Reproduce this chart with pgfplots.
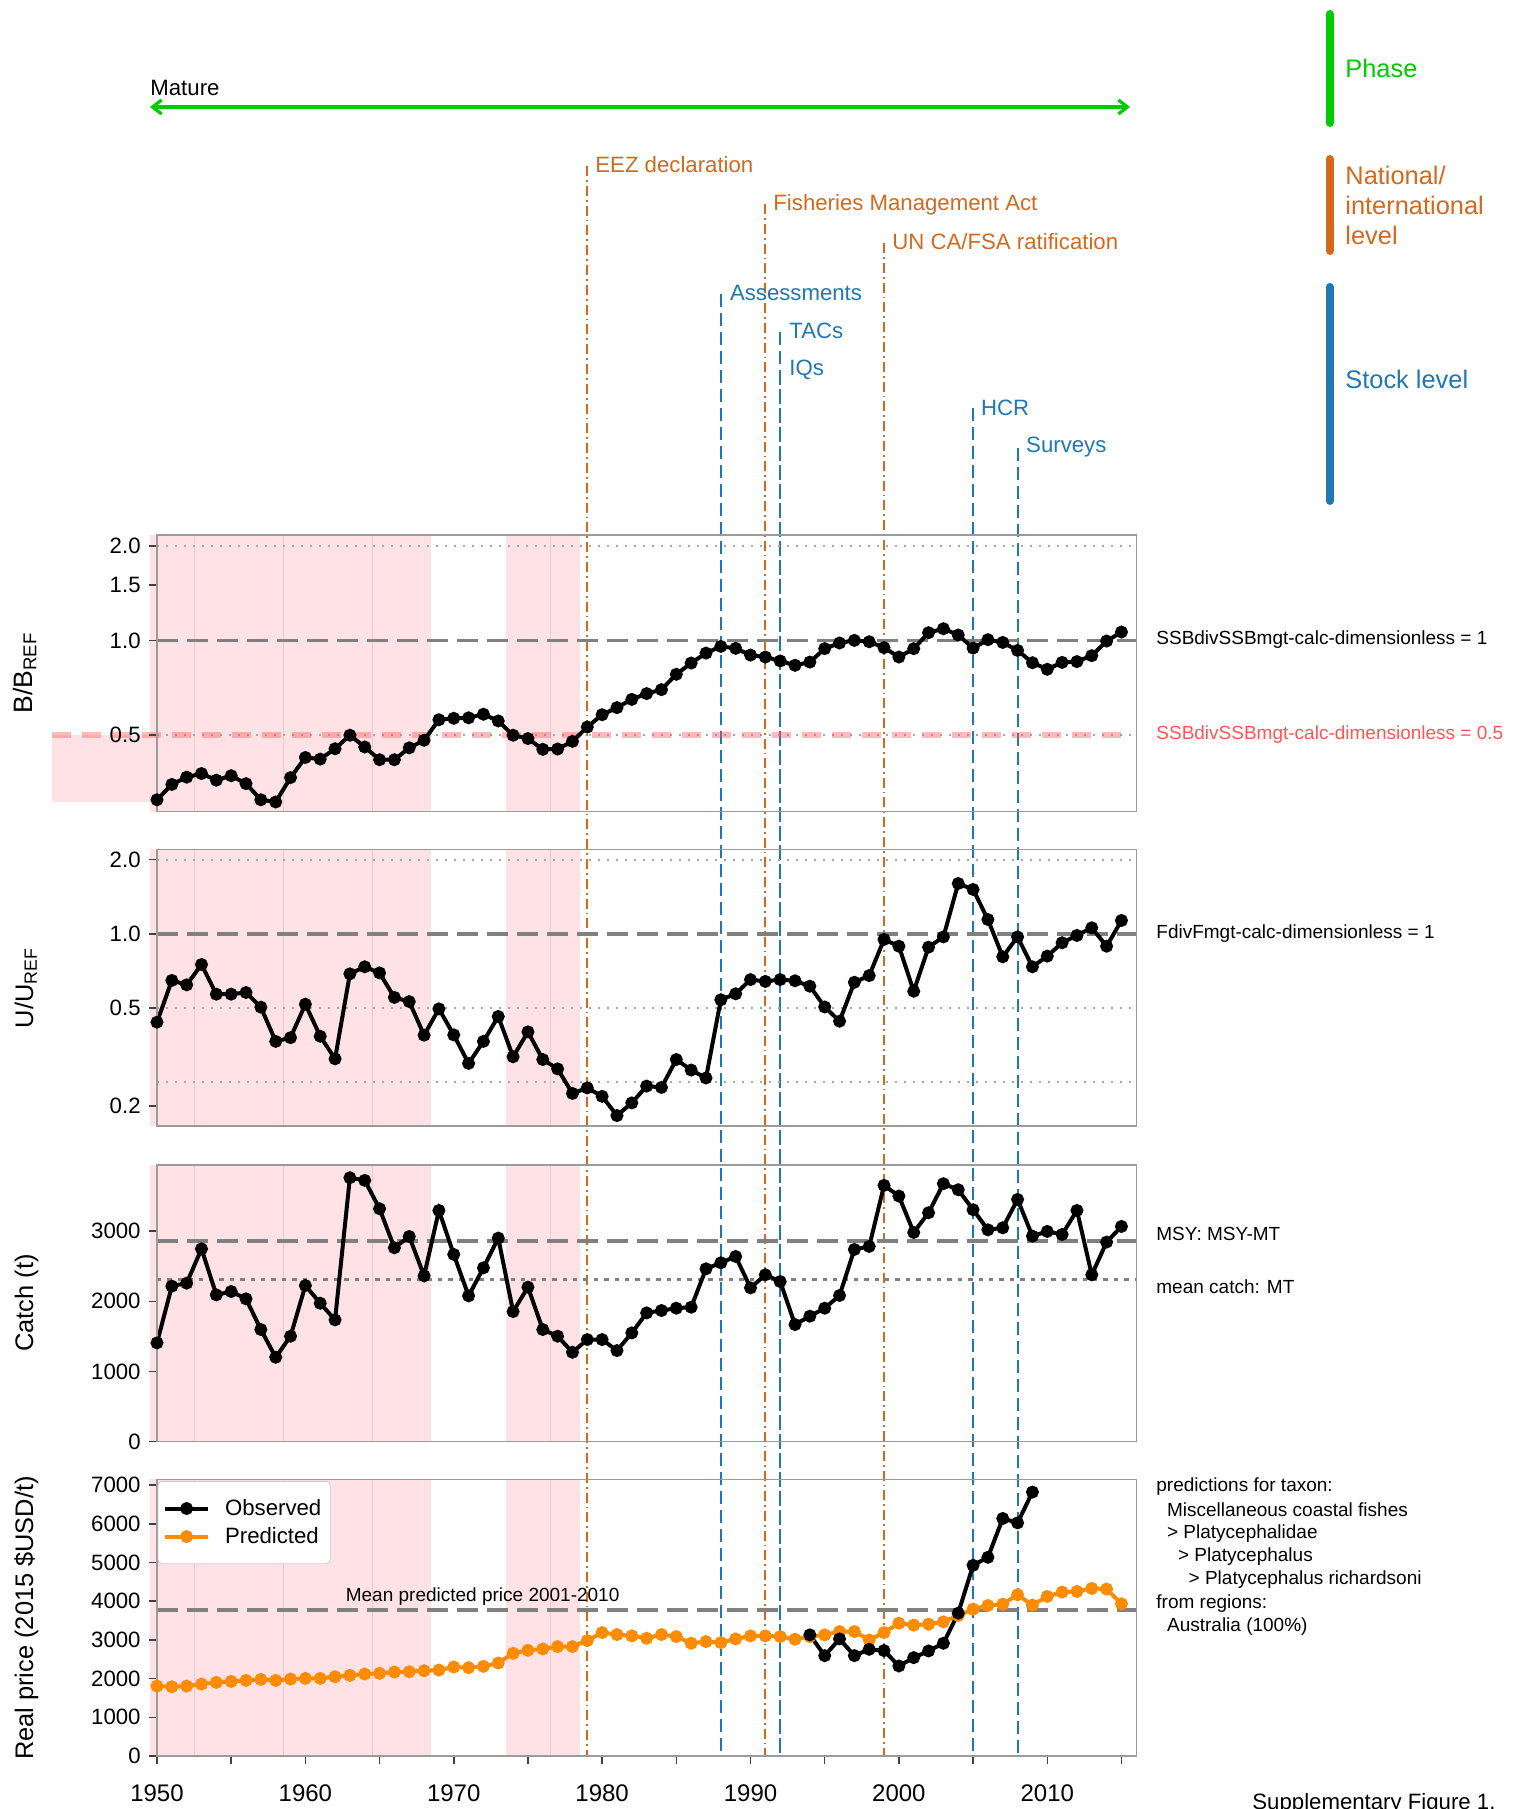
\documentclass[border=0pt]{standalone}
\usepackage{pgfplots}
\pgfplotsset{compat=1.18}
\usepackage{pgfplotstable}
\usepackage{fontspec}
\setmainfont{Liberation Sans}
\usetikzlibrary{arrows.meta}

\definecolor{band}{RGB}{255,226,229}
\definecolor{bandedge}{RGB}{247,196,200}
\definecolor{frame}{RGB}{155,155,155}
\definecolor{natc}{RGB}{210,105,30}
\definecolor{stockc}{RGB}{31,119,180}
\definecolor{phasec}{RGB}{0,204,0}
\definecolor{predc}{RGB}{255,140,0}
\definecolor{limc}{RGB}{255,85,85}

% B/Bref
\pgfplotstableread{
yr v
1950 0.311
1951 0.348
1952 0.367
1953 0.377
1954 0.359
1955 0.371
1956 0.350
1957 0.311
1958 0.306
1959 0.366
1960 0.424
1961 0.419
1962 0.452
1963 0.499
1964 0.458
1965 0.417
1966 0.417
1967 0.455
1968 0.481
1969 0.559
1970 0.565
1971 0.567
1972 0.582
1973 0.554
1974 0.499
1975 0.487
1976 0.450
1977 0.451
1978 0.477
1979 0.530
1980 0.580
1981 0.611
1982 0.649
1983 0.677
1984 0.697
1985 0.780
1986 0.847
1987 0.911
1988 0.957
1989 0.943
1990 0.898
1991 0.885
1992 0.860
1993 0.833
1994 0.853
1995 0.941
1996 0.981
1997 1.000
1998 0.990
1999 0.948
2000 0.885
2001 0.941
2002 1.058
2003 1.089
2004 1.040
2005 0.945
2006 1.005
2007 0.985
2008 0.929
2009 0.849
2010 0.809
2011 0.851
2012 0.856
2013 0.894
2014 0.995
2015 1.063
}\bbtab

% U/Uref
\pgfplotstableread{
yr v
1950 0.438
1951 0.647
1952 0.621
1953 0.751
1954 0.569
1955 0.569
1956 0.578
1957 0.504
1958 0.366
1959 0.379
1960 0.518
1961 0.384
1962 0.311
1963 0.688
1964 0.735
1965 0.694
1966 0.552
1967 0.531
1968 0.388
1969 0.496
1970 0.389
1971 0.298
1972 0.366
1973 0.462
1974 0.317
1975 0.400
1976 0.309
1977 0.283
1978 0.225
1979 0.237
1980 0.219
1981 0.183
1982 0.206
1983 0.241
1984 0.238
1985 0.309
1986 0.280
1987 0.260
1988 0.540
1989 0.571
1990 0.652
1991 0.641
1992 0.652
1993 0.645
1994 0.613
1995 0.505
1996 0.442
1997 0.636
1998 0.677
1999 0.949
2000 0.891
2001 0.585
2002 0.883
2003 0.972
2004 1.601
2005 1.514
2006 1.143
2007 0.807
2008 0.972
2009 0.735
2010 0.812
2011 0.920
2012 0.985
2013 1.058
2014 0.891
2015 1.133
}\uutab

% catch (t)
\pgfplotstableread{
yr v
1950 1408
1951 2216
1952 2259
1953 2748
1954 2092
1955 2140
1956 2035
1957 1598
1958 1203
1959 1503
1960 2225
1961 1973
1962 1736
1963 3761
1964 3723
1965 3319
1966 2763
1967 2924
1968 2363
1969 3295
1970 2668
1971 2078
1972 2477
1973 2901
1974 1854
1975 2202
1976 1598
1977 1503
1978 1274
1979 1455
1980 1455
1981 1298
1982 1550
1983 1835
1984 1869
1985 1902
1986 1916
1987 2463
1988 2549
1989 2639
1990 2192
1991 2378
1992 2282
1993 1669
1994 1788
1995 1902
1996 2083
1997 2739
1998 2782
1999 3652
2000 3500
2001 2981
2002 3262
2003 3676
2004 3590
2005 3305
2006 3019
2007 3048
2008 3452
2009 2929
2010 2996
2011 2953
2012 3295
2013 2378
2014 2844
2015 3067
}\catchtab

% predicted real price
\pgfplotstableread{
yr v
1950 1806
1951 1789
1952 1806
1953 1858
1954 1901
1955 1927
1956 1953
1957 1979
1958 1953
1959 1988
1960 2005
1961 2005
1962 2048
1963 2083
1964 2118
1965 2135
1966 2169
1967 2178
1968 2204
1969 2221
1970 2299
1971 2282
1972 2316
1973 2403
1974 2653
1975 2731
1976 2766
1977 2826
1978 2826
1979 2982
1980 3189
1981 3137
1982 3103
1983 3042
1984 3137
1985 3086
1986 2913
1987 2956
1988 2930
1989 3025
1990 3103
1991 3103
1992 3086
1993 3016
1994 3086
1995 3129
1996 3215
1997 3215
1998 2999
1999 3189
2000 3431
2001 3380
2002 3405
2003 3466
2004 3630
2005 3794
2006 3889
2007 3924
2008 4166
2009 3898
2010 4123
2011 4235
2012 4252
2013 4330
2014 4313
2015 3933
}\predtab

% observed real price
\pgfplotstableread{
yr v
1994 3129
1995 2593
1996 3025
1997 2593
1998 2757
1999 2723
2000 2325
2001 2541
2002 2714
2003 2913
2004 3691
2005 4927
2006 5134
2007 6137
2008 6024
2009 6819
}\obstab

\newcommand\fsmall{\fontsize{9.5}{11.5}\selectfont}
\newcommand\fmid{\fontsize{11.1}{13}\selectfont}
\newcommand\fbig{\fontsize{12.7}{15}\selectfont}

% shaded periods, drawn first in each panel
\newcommand\bands{%
  \fill[band] ({axis cs:1949.5,1}|-{rel axis cs:0,0}) rectangle ({axis cs:1968.5,1}|-{rel axis cs:0,1});
  \fill[band] ({axis cs:1973.5,1}|-{rel axis cs:0,0}) rectangle ({axis cs:1978.5,1}|-{rel axis cs:0,1});
  \draw[bandedge, line width=0.4pt] ({axis cs:1952.5,1}|-{rel axis cs:0,0}) -- ({axis cs:1952.5,1}|-{rel axis cs:0,1});
  \draw[bandedge, line width=0.4pt] ({axis cs:1958.5,1}|-{rel axis cs:0,0}) -- ({axis cs:1958.5,1}|-{rel axis cs:0,1});
  \draw[bandedge, line width=0.4pt] ({axis cs:1964.5,1}|-{rel axis cs:0,0}) -- ({axis cs:1964.5,1}|-{rel axis cs:0,1});
  \draw[bandedge, line width=0.4pt] ({axis cs:1976.5,1}|-{rel axis cs:0,0}) -- ({axis cs:1976.5,1}|-{rel axis cs:0,1});
}
% horizontal reference line across a panel
\newcommand\hl[2]{\draw[#2] ({rel axis cs:0,0}|-{axis cs:1950,#1}) -- ({rel axis cs:1,0}|-{axis cs:1950,#1});}

\tikzset{
  series/.style={black, line width=2pt, mark=*, mark size=2.2pt, mark options={solid}},
  lightdot/.style={black!35, line width=1pt, dash pattern=on 1.2pt off 3.3pt},
  refdash/.style={black!50, line width=1.8pt, dash pattern=on 10.5pt off 4.5pt},
  natline/.style={natc, line width=1pt, dash pattern=on 5pt off 2pt on 0.9pt off 2pt},
  stockline/.style={stockc, line width=1pt, dash pattern=on 6.5pt off 3pt},
}
\pgfplotsset{
  panel/.style={
    axis on top, scale only axis, width=489.65pt, height=138.3pt,
    anchor=south west, xmin=1950, xmax=2016, clip=false,
    axis line style={draw=frame, line width=0.75pt},
    tick style={draw=black!75, line width=0.75pt},
    tick align=outside, major tick length=4pt,
    ytick pos=left, xtick pos=bottom, xtick=\empty,
    yticklabel style={font=\fmid, inner sep=0pt, anchor=east, xshift=-4pt},
  },
}

\begin{document}
\begin{tikzpicture}

% annotation layer, coordinates in pixels from the top-left corner
\begin{scope}[x=0.5pt, y=-0.5pt, shift={(0pt,904.5pt)}]
  % management events
  \draw[natline] (587.4,166) -- (587.4,1756);
  \draw[natline] (765.4,204) -- (765.4,1756);
  \draw[natline] (884.2,243) -- (884.2,1756);
  \draw[stockline] (720.9,294) -- (720.9,1756);
  \draw[stockline] (780.3,332) -- (780.3,1756);
  \draw[stockline] (780.3,372) -- (780.3,1756);
  \draw[stockline] (973.2,408) -- (973.2,1756);
  \draw[stockline] (1017.7,448) -- (1017.7,1756);

  \begin{scope}[every node/.style={inner sep=0pt, anchor=west, font=\fmid}]
    \node[natc] at (595,164.5) {EEZ declaration};
    \node[natc] at (773,204.5) {Fisheries Management Act};
    \node[natc] at (892,241.5) {UN CA/FSA ratification};
    \node[stockc] at (729.6,292.7) {Assessments};
    \node[stockc] at (789,330.5) {TACs};
    \node[stockc] at (789,370) {IQs};
    \node[stockc] at (980.7,407.5) {HCR};
    \node[stockc] at (1025.8,447) {Surveys};
    \node at (150,87.5) {Mature};
  \end{scope}

  % phase arrow
  \draw[phasec, line width=1.6pt, {Straight Barb[length=4.5pt,width=7pt]}-{Straight Barb[length=4.5pt,width=7pt]}] (150,107) -- (1130,107);

  % key on the right
  \draw[phasec, line width=4pt, line cap=round] (1329.6,14) -- (1329.6,123);
  \draw[natc, line width=4pt, line cap=round] (1329.6,159) -- (1329.6,251);
  \draw[stockc, line width=4pt, line cap=round] (1329.6,287) -- (1329.6,501);
  \begin{scope}[every node/.style={inner sep=0pt, anchor=west, font=\fbig}]
    \node[phasec] at (1345,68) {Phase};
    \node[natc] at (1345,175) {National/};
    \node[natc] at (1345,205) {international};
    \node[natc] at (1345,235) {level};
    \node[stockc] at (1345,379) {Stock level};
  \end{scope}

  % y labels
  \begin{scope}[every node/.style={rotate=90, anchor=base, inner sep=0pt, font=\fbig}]
    \node[font=\fontsize{13.3}{15}\selectfont] at (32,673) {B/B\textsubscript{REF}};
    \node at (33,988) {U/U\textsubscript{REF}};
    \node at (33,1303) {Catch (t)};
    \node at (33,1618) {Real price (2015 \$USD/t)};
  \end{scope}

  % notes to the right of the panels
  \begin{scope}[every node/.style={inner sep=0pt, anchor=west, font=\fsmall}]
    \node at (1156,640) {SSBdivSSBmgt-calc-dimensionless = 1};
    \node[limc] at (1156,735) {SSBdivSSBmgt-calc-dimensionless = 0.5};
    \node at (1156,934) {FdivFmgt-calc-dimensionless = 1};
    \node at (1156,1234) {MSY: MSY-MT};
    \node at (1156,1286.5) {mean catch: MT};
    \node at (1156,1486.7) {predictions for taxon:};
    \node at (1166.7,1510) {Miscellaneous coastal fishes};
    \node at (1166.7,1533.3) {> Platycephalidae};
    \node at (1177.7,1556.7) {> Platycephalus};
    \node at (1188.3,1580) {> Platycephalus richardsoni};
    \node at (1156,1603.3) {from regions:};
    \node at (1166.7,1626.7) {Australia (100\%)};
  \end{scope}
  \node[anchor=base west, inner sep=0pt, font=\fmid] at (1252,1810) {Supplementary Figure 1.};
\end{scope}

% panel 1: B/Bref
\begin{axis}[panel, at={(78.5pt,498.65pt)}, ymode=log, ymin=0.285, ymax=2.163,
  ytick={0.5,1,1.5,2}, yticklabels={0.5,1.0,1.5,2.0}]
  \bands
  \fill[band] (axis cs:1942.9,0.306) rectangle (axis cs:1950,0.5);
  \hl{2}{lightdot}
  \hl{1}{refdash}
  \hl{0.5}{lightdot}
  \draw[limc, opacity=0.4, line width=2.6pt, dash pattern=on 9.5pt off 5.5pt] (axis cs:1942.9,0.5) -- (axis cs:2015.3,0.5);
  \addplot[series] table[x=yr, y=v] {\bbtab};
\end{axis}

% panel 2: U/Uref
\begin{axis}[panel, at={(78.5pt,341.5pt)}, ymode=log, ymin=0.166, ymax=2.202,
  ytick={0.2,0.5,1,2}, yticklabels={0.2,0.5,1.0,2.0}]
  \bands
  \hl{2}{lightdot}
  \hl{0.5}{lightdot}
  \hl{0.25}{lightdot}
  \hl{1}{refdash}
  \addplot[series] table[x=yr, y=v] {\uutab};
\end{axis}

% panel 3: catch
\begin{axis}[panel, at={(78.5pt,183.65pt)}, ymin=0, ymax=3941,
  ytick={0,1000,2000,3000}, yticklabels={0,1000,2000,3000}]
  \bands
  \hl{2857}{refdash}
  \hl{2310}{black!50, line width=1.8pt, dash pattern=on 2.2pt off 3pt}
  \addplot[series] table[x=yr, y=v] {\catchtab};
\end{axis}

% panel 4: real price
\begin{axis}[panel, at={(78.5pt,26.5pt)}, ymin=0, ymax=7147,
  ytick={0,1000,...,7000}, yticklabels={0,1000,2000,3000,4000,5000,6000,7000},
  xtick={1950,1955,...,2015},
  xticklabels={1950,,1960,,1970,,1980,,1990,,2000,,2010,},
  xticklabel style={font=\fontsize{12}{14}\selectfont, inner sep=0pt, anchor=north, yshift=-10pt},
  legend style={at={(0,1)}, anchor=north west, xshift=0.5pt, yshift=-1pt, outer sep=0pt,
    draw=black!20, rounded corners=2pt, fill=white, font=\fmid,
    inner xsep=2.5pt, inner ysep=6.8pt, row sep=0.5pt},
  legend cell align=left,
  legend image code/.code={%
    \draw[mark repeat=2, mark phase=2, #1] plot coordinates {(0cm,0cm) (0.38cm,0cm) (0.76cm,0cm)};
    \path (0.95cm,0cm);}]
  \bands
  \hl{3768}{refdash}
  \node[anchor=west, inner sep=0pt, font=\fsmall] at (axis cs:1962.7,4125) {Mean predicted price 2001-2010};
  \addplot[series, predc, forget plot] table[x=yr, y=v] {\predtab};
  \addplot[series, forget plot] table[x=yr, y=v] {\obstab};
  \addlegendimage{series}
  \addlegendentry{Observed}
  \addlegendimage{series, predc}
  \addlegendentry{Predicted}
\end{axis}

% fix the page to the reference's frame
\pgfresetboundingbox
\path[use as bounding box] (0,0) rectangle (761.5pt,904.5pt);
\end{tikzpicture}
\end{document}
